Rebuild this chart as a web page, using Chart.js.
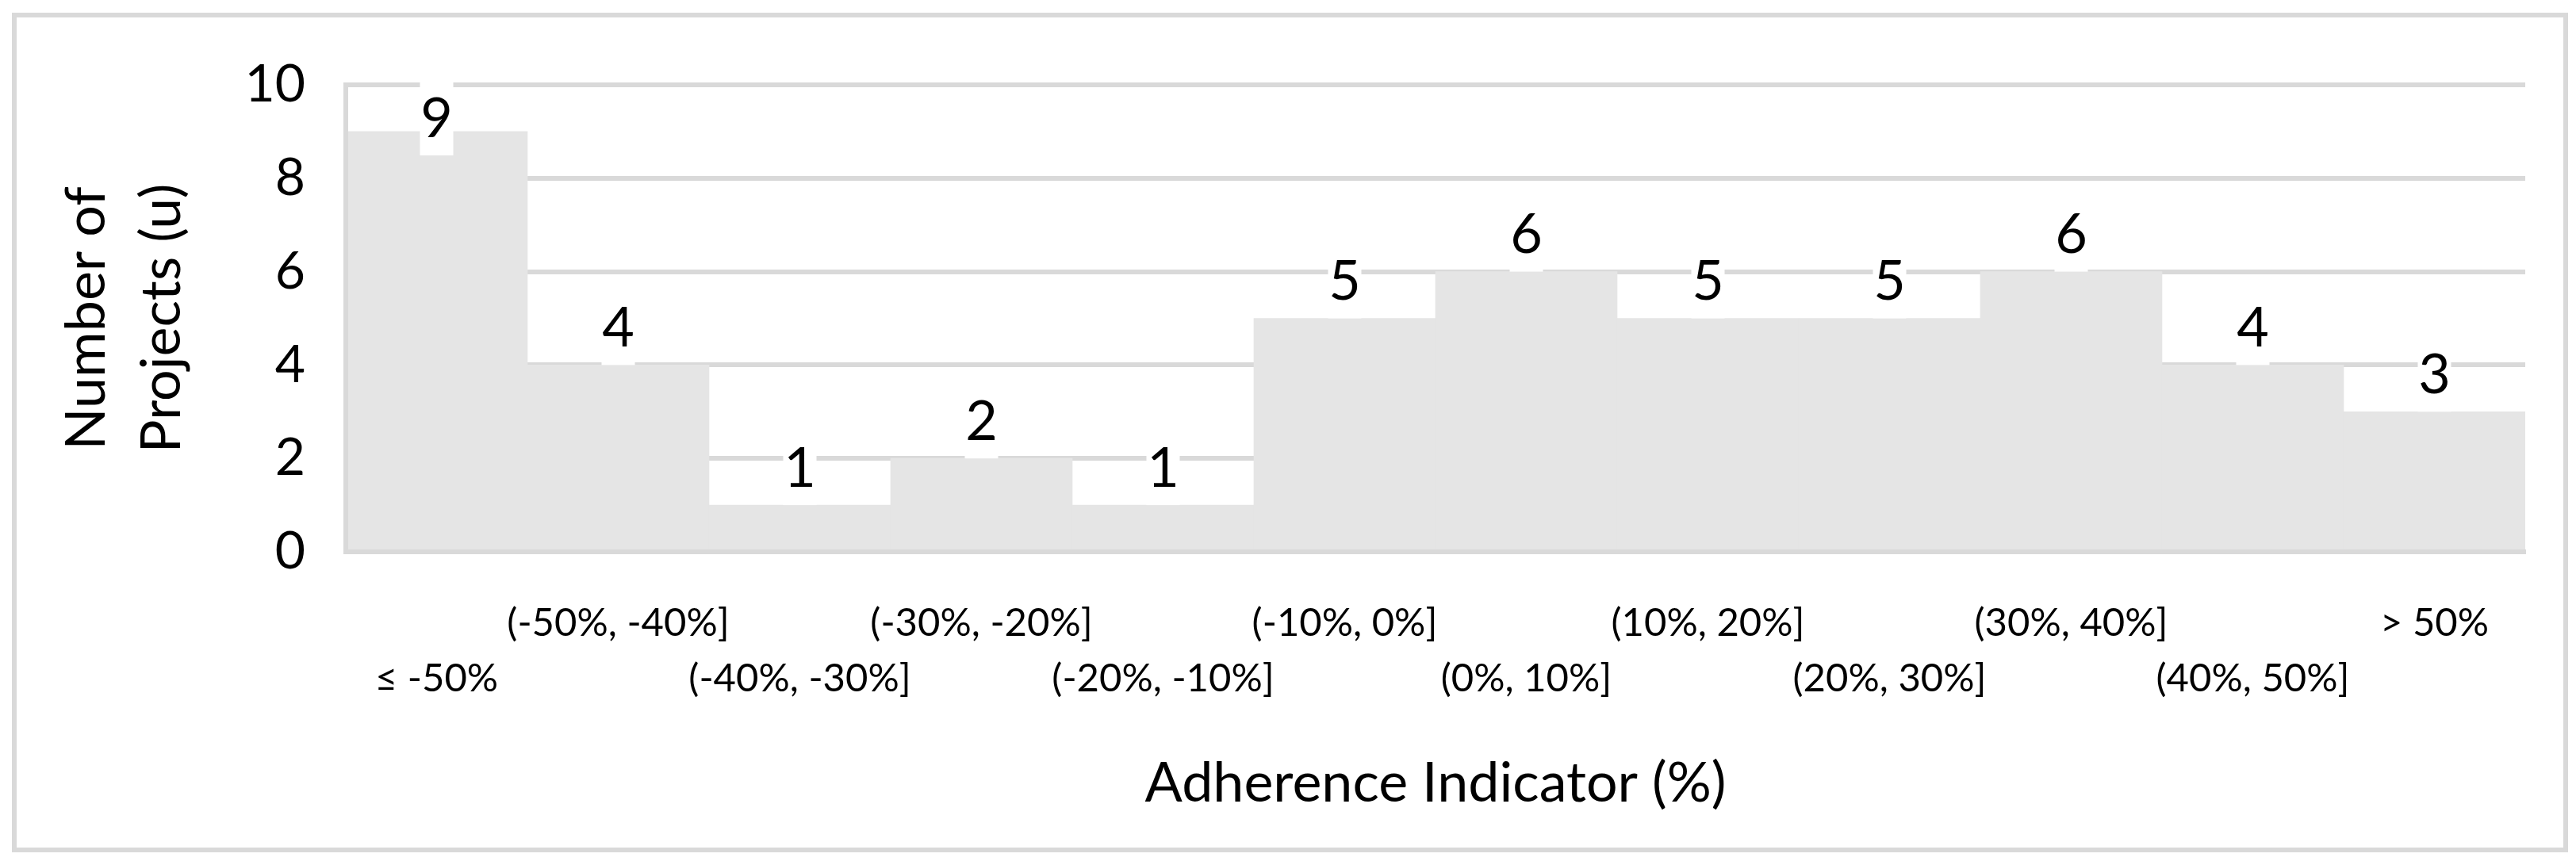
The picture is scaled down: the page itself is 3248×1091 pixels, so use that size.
<!DOCTYPE html>
<html>
<head>
<meta charset="utf-8">
<script src="https://cdn.jsdelivr.net/npm/chart.js@4.4.1/dist/chart.umd.min.js"></script>
<style>
  body { margin: 0; background: #fff; }
  canvas { display: block; }
</style>
</head>
<body>
<canvas id="myChart" width="3248" height="1091"></canvas>
<script>
// data
const categories = ['≤ -50%', '(-50%, -40%]', '(-40%, -30%]', '(-30%, -20%]', '(-20%, -10%]', '(-10%, 0%]',
    '(0%, 10%]', '(10%, 20%]', '(20%, 30%]', '(30%, 40%]', '(40%, 50%]', '> 50%'];
const projects = [9, 4, 1, 2, 1, 5, 6, 5, 5, 6, 4, 3];
const yTicks = [0, 2, 4, 6, 8, 10];

const gridColor = '#d9d9d9';
const barColor = '#e5e5e5';

// white page + light grey frame round the whole chart
const frame = {
    id: 'frame',
    beforeDraw(chart) {
        const ctx = chart.ctx;
        ctx.save();
        ctx.fillStyle = '#fff';
        ctx.fillRect(0, 0, chart.width, chart.height);
        ctx.strokeStyle = gridColor;
        ctx.lineWidth = 6;
        ctx.strokeRect(18, 19, 3217, 1053);
        ctx.restore();
    }
};

// value labels on a white box above each bar, kept inside the plot area
const barLabels = {
    id: 'barLabels',
    afterDatasetsDraw(chart) {
        const ctx = chart.ctx;
        const area = chart.chartArea;
        const meta = chart.getDatasetMeta(0);
        ctx.save();
        ctx.font = '70px Lato';
        ctx.textAlign = 'center';
        ctx.textBaseline = 'middle';
        meta.data.forEach((bar, i) => {
            let cy = bar.y - 46;
            if (cy - 46 < area.top - 3) cy = area.top - 3 + 46;
            ctx.fillStyle = '#fff';
            ctx.fillRect(bar.x - 21, cy - 46, 42, 92);
            ctx.fillStyle = '#000';
            ctx.fillText(String(projects[i]), bar.x, cy);
        });
        ctx.restore();
    }
};

Chart.defaults.font.family = 'Lato';
Chart.defaults.color = '#000';

new Chart(document.getElementById('myChart'), {
    type: 'bar',
    data: {
        labels: categories,
        datasets: [{
            data: projects,
            backgroundColor: barColor,
            borderWidth: 0,
            barPercentage: 1,
            categoryPercentage: 1
        }]
    },
    options: {
        responsive: false,
        devicePixelRatio: 1,
        animation: false,
        layout: { padding: { left: 20, right: 64, top: 107, bottom: 40 } },
        plugins: {
            legend: { display: false },
            tooltip: { enabled: false }
        },
        scales: {
            x: {
                grid: { display: false, drawTicks: false },
                border: { display: true, color: gridColor, width: 6, z: 1 },
                ticks: {
                    autoSkip: false,
                    maxRotation: 0,
                    minRotation: 0,
                    padding: 55,
                    font: { size: 49, lineHeight: '70px' },
                    // staggered in two rows like the original
                    callback: (val, i) => i % 2 ? [categories[i], ''] : ['', categories[i]]
                },
                title: {
                    display: true,
                    text: 'Adherence Indicator (%)',
                    font: { size: 70, lineHeight: 1.2 },
                    padding: { top: 0, bottom: 21 }
                },
                afterFit: (scale) => { scale.height = 355; }
            },
            y: {
                min: 0,
                max: 10,
                grid: { color: gridColor, lineWidth: 6, drawTicks: false },
                border: { display: true, color: gridColor, width: 6, z: 1 },
                ticks: {
                    padding: 51,
                    font: { size: 66 }
                },
                afterBuildTicks: (scale) => { scale.ticks = yTicks.map(v => ({ value: v })); },
                title: {
                    display: true,
                    text: ['Number of', 'Projects (u)'],
                    font: { size: 70, lineHeight: '95px' },
                    padding: { top: 42, bottom: 0 }
                },
                afterFit: (scale) => { scale.width = 416; }
            }
        }
    },
    plugins: [frame, barLabels]
});
</script>
</body>
</html>
